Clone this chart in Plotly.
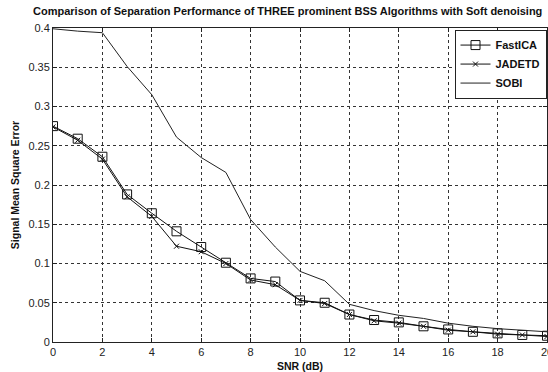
import plotly.graph_objects as go

snr = list(range(0, 21))
fastica = [0.275, 0.259, 0.236, 0.188, 0.164, 0.141, 0.121, 0.101, 0.081, 0.077, 0.053,
           0.050, 0.035, 0.028, 0.025, 0.020, 0.016, 0.013, 0.011, 0.009, 0.008]
jadetd = [0.274, 0.257, 0.233, 0.185, 0.160, 0.122, 0.115, 0.100, 0.079, 0.073, 0.053,
          0.049, 0.035, 0.027, 0.024, 0.020, 0.015, 0.013, 0.010, 0.009, 0.007]
sobi = [0.399, 0.396, 0.394, 0.351, 0.315, 0.261, 0.235, 0.216, 0.156, 0.121, 0.090,
        0.078, 0.048, 0.040, 0.034, 0.030, 0.024, 0.020, 0.017, 0.015, 0.013]

title_text = "Comparison of Separation Performance of THREE prominent BSS Algorithms with Soft denoising"
x_ticks = [0, 2, 4, 6, 8, 10, 12, 14, 16, 18, 20]
y_ticks = [0, 0.05, 0.1, 0.15, 0.2, 0.25, 0.3, 0.35, 0.4]
y_tick_labels = ["0", "0.05", "0.1", "0.15", "0.2", "0.25", "0.3", "0.35", "0.4"]

FONT = "Liberation Sans, Arial"

fig = go.Figure()
fig.add_trace(go.Scatter(x=snr, y=fastica, name="<b>FastICA</b>", mode="lines+markers",
                         line=dict(color="#111", width=1),
                         marker=dict(symbol="square-open", size=9, color="#111", line=dict(width=1))))
fig.add_trace(go.Scatter(x=snr, y=jadetd, name="<b>JADETD</b>", mode="lines+markers",
                         line=dict(color="#111", width=1),
                         marker=dict(symbol="x-thin-open", size=5, color="#111", line=dict(width=1, color="#111"))))
fig.add_trace(go.Scatter(x=snr, y=sobi, name="<b>SOBI</b>", mode="lines",
                         line=dict(color="#222", width=1)))

axis_common = dict(showline=True, linecolor="#222", linewidth=1, mirror="ticks",
                   ticks="inside", ticklen=4, tickcolor="#222",
                   showgrid=True, gridcolor="#333", gridwidth=1, griddash="dot",
                   zeroline=False, ticklabeloverflow="allow",
                   tickfont=dict(family=FONT, size=11, color="#222"))

fig.update_xaxes(range=[0, 20], tickvals=x_ticks, ticktext=[str(t) for t in x_ticks],
                 title=dict(text="<b>SNR (dB)</b>", font=dict(family=FONT, size=10.5, color="#111"), standoff=5),
                 **axis_common)
fig.update_yaxes(range=[0, 0.4], tickvals=y_ticks, ticktext=y_tick_labels,
                 title=dict(text="<b>Signal Mean Square Error</b>", font=dict(family=FONT, size=10.5, color="#111"), standoff=6),
                 **axis_common)

fig.update_layout(
    width=548, height=372,
    margin=dict(l=53, r=1, t=28, b=30, autoexpand=False),
    paper_bgcolor="white", plot_bgcolor="white",
    title=dict(text="<b>" + title_text + "</b>", x=0.525, xanchor="center", y=0.97, yanchor="middle",
               font=dict(family=FONT, size=11, color="#111")),
    legend=dict(x=0.999, xanchor="right", y=0.995, yanchor="top",
                bordercolor="#222", borderwidth=1, bgcolor="white",
                font=dict(family=FONT, size=11, color="#111"),
                itemwidth=30, tracegroupgap=0),
    showlegend=True,
)

fig.write_html("out.html")
